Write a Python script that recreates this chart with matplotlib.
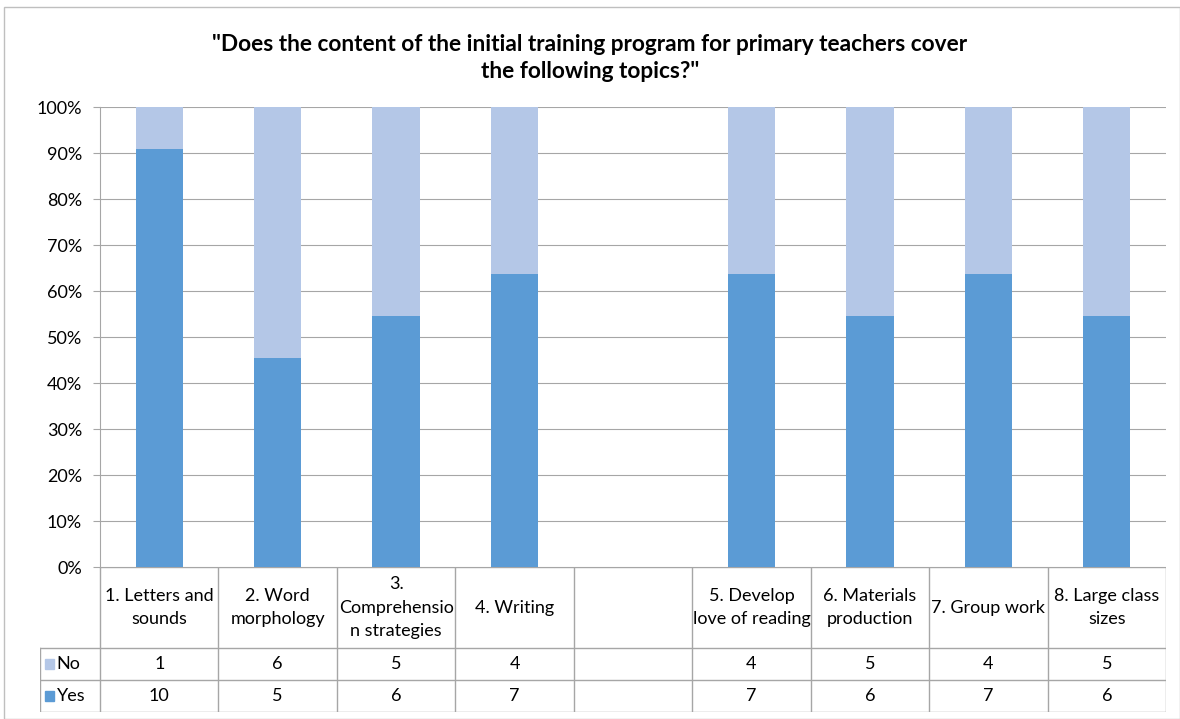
import numpy as np
import matplotlib
matplotlib.use("Agg")
import matplotlib.pyplot as plt
from matplotlib.patches import Rectangle

plt.rcParams['font.family'] = ['Lato', 'DejaVu Sans']

# data (empty slot between 4 and 5 as in the original)
categories = ["1. Letters and\nsounds", "2. Word\nmorphology", "3.\nComprehensio\nn strategies",
              "4. Writing", "", "5. Develop\nlove of reading", "6. Materials\nproduction",
              "7. Group work", "8. Large class\nsizes"]
no_counts = [1, 6, 5, 4, None, 4, 5, 4, 5]
yes_counts = [10, 5, 6, 7, None, 7, 6, 7, 6]
yticks = [0, 10, 20, 30, 40, 50, 60, 70, 80, 90, 100]

yes_color = "#5B9BD5"
no_color = "#B4C7E7"
grid_color = "#A6A6A6"

W, H = 1180, 719
fig = plt.figure(figsize=(W / 100, H / 100), dpi=100)

# outer chart border
fig.patches.append(Rectangle((4 / W, 0), 1 - 4 / W, 1 - 7 / H, transform=fig.transFigure,
                             fill=False, edgecolor="#BFBFBF", lw=1))

fig.text(0.5, 1 - 58 / H, '"Does the content of the initial training program for primary teachers cover\nthe following topics?"',
         ha="center", va="center", fontsize=16.3, fontweight="bold", color="black", linespacing=1.35)

x0, x1, y_top, y_zero, y_tab = 100, 1166, 107, 567, 712
ax = fig.add_axes([x0 / W, 1 - y_zero / H, (x1 - x0) / W, (y_zero - y_top) / H])

x = np.arange(len(categories))
yes_pct = []
no_pct = []
for y_, n_ in zip(yes_counts, no_counts):
    if y_ is None:
        yes_pct.append(0)
        no_pct.append(0)
    else:
        yes_pct.append(100 * y_ / (y_ + n_))
        no_pct.append(100 * n_ / (y_ + n_))

ax.bar(x, yes_pct, width=0.4, color=yes_color, zorder=3)
ax.bar(x, no_pct, width=0.4, bottom=yes_pct, color=no_color, zorder=3)

ax.set_xlim(-0.5, len(categories) - 0.5)
ax.set_ylim(0, 100)
ax.set_yticks(yticks)
ax.set_yticklabels([f"{t}%" for t in yticks], fontsize=13, color="black")
ax.yaxis.grid(True, color=grid_color, lw=0.8, zorder=0)
ax.set_xticks([])
ax.tick_params(axis="y", length=5, color=grid_color, pad=8)
for s in ["top", "right", "bottom"]:
    ax.spines[s].set_visible(False)
ax.spines["left"].set_color(grid_color)

# data table below the plot
slot = (x1 - x0) / len(categories)
left_ext = (x0 - 40) / slot
tab = fig.add_axes([40 / W, 1 - y_tab / H, (x1 - 40) / W, (y_tab - y_zero) / H])
tab.set_xlim(-0.5 - left_ext, len(categories) - 0.5)
tab.set_ylim(y_tab - y_zero, 0)
tab.axis("off")

r1, r2, r3 = 81, 113, 145
lc = "#A6A6A6"
tab.plot([-0.5, len(categories) - 0.5], [0, 0], color=lc, lw=1)
for r in [r1, r2, r3]:
    tab.plot([-0.5 - left_ext, len(categories) - 0.5], [r, r], color=lc, lw=1)
tab.plot([-0.5 - left_ext] * 2, [r1, r3], color=lc, lw=1)
for b in np.arange(len(categories) + 1) - 0.5:
    tab.plot([b, b], [0, r3], color=lc, lw=1)

for i, c in enumerate(categories):
    tab.text(i, r1 / 2, c, ha="center", va="center", fontsize=13, color="black", linespacing=1.55)
    if no_counts[i] is not None:
        tab.text(i, (r1 + r2) / 2, str(no_counts[i]), ha="center", va="center", fontsize=13)
        tab.text(i, (r2 + r3) / 2, str(yes_counts[i]), ha="center", va="center", fontsize=13)

# legend keys in table header column
for (yc, name, col) in [((r1 + r2) / 2, "No", no_color), ((r2 + r3) / 2, "Yes", yes_color)]:
    tab.add_patch(Rectangle((-0.5 - left_ext + 0.04, yc - 5), 0.075, 10, color=col))
    tab.text(-0.5 - left_ext + 0.14, yc, name, ha="left", va="center", fontsize=13)

fig.savefig("out.png", dpi=100)
